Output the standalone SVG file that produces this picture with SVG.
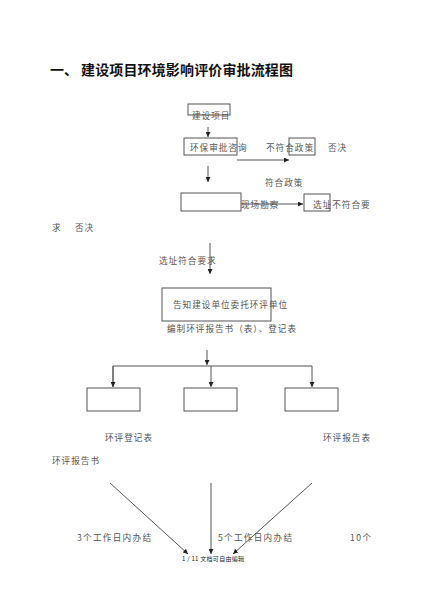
<svg xmlns="http://www.w3.org/2000/svg" width="423" height="600" viewBox="0 0 423 600">
<style>
.t{font-family:"Noto Sans CJK SC","Noto Sans",sans-serif;font-size:8.6px;fill:#555;letter-spacing:1px}
.h{font-family:"Noto Sans CJK SC","Noto Sans",sans-serif;font-size:14px;font-weight:bold;fill:#111}
.b{fill:none;stroke:#555;stroke-width:1}
.c{fill:none;stroke:#555;stroke-width:1}
.f{font-family:"Noto Sans CJK SC","Noto Sans",sans-serif;font-size:6px;fill:#222}
</style>
<defs>
<marker id="a" viewBox="0 0 8 8" refX="8" refY="4" markerWidth="5" markerHeight="5" orient="auto" markerUnits="userSpaceOnUse">
<path d="M0,0 L8,4 L0,8 Z" fill="#222"/>
</marker>
</defs>
<rect width="423" height="600" fill="#fff"/>
<g id="title">
<text class="h" x="50" y="75">一、</text>
<text class="h" x="81" y="75" textLength="212">建设项目环境影响评价审批流程图</text>
</g>
<g id="connectors">
<line class="c" x1="208" y1="127" x2="208" y2="137" marker-end="url(#a)"/>
<line class="c" x1="237" y1="160" x2="289" y2="160" marker-end="url(#a)"/>
<line class="c" x1="208" y1="166" x2="208" y2="182" marker-end="url(#a)"/>
<line class="c" x1="241" y1="204" x2="303" y2="204" marker-end="url(#a)"/>
<line class="c" x1="210" y1="243" x2="210" y2="274" marker-end="url(#a)"/>
<line class="c" x1="207" y1="350" x2="207" y2="365" marker-end="url(#a)"/>
<polyline class="c" points="113,387 113,366 312,366 312,387" marker-end="url(#a)"/>
<line class="c" x1="113" y1="366" x2="113" y2="387" marker-end="url(#a)"/>
<line class="c" x1="211" y1="366" x2="211" y2="387" marker-end="url(#a)"/>
<line class="c" x1="110" y1="483" x2="188" y2="554" marker-end="url(#a)"/>
<line class="c" x1="211" y1="483" x2="211" y2="554" marker-end="url(#a)"/>
<line class="c" x1="312" y1="483" x2="233" y2="554" marker-end="url(#a)"/>
</g>
<g id="n1">
<rect class="b" x="188" y="104" width="42" height="11"/>
<text class="t" x="192" y="119">建设项目</text>
</g>
<g id="n2">
<rect class="b" x="184" y="138" width="53" height="17"/>
<text class="t" x="190" y="151">环保审批咨询</text>
</g>
<g id="n3">
<rect class="b" x="289" y="138" width="26" height="17"/>
<text class="t" x="266" y="151">不符合政策</text>
</g>
<g id="l1"><text class="t" x="328" y="151">否决</text></g>
<g id="l2"><text class="t" x="265" y="186">符合政策</text></g>
<g id="n4">
<rect class="b" x="181" y="193" width="60" height="18"/>
<text class="t" x="241" y="208">现场勘察</text>
</g>
<g id="n5">
<rect class="b" x="304" y="194" width="26" height="17"/>
<text class="t" x="313" y="208">选址不符合要</text>
</g>
<g id="l3">
<text class="t" x="52" y="231">求</text>
<text class="t" x="75" y="231">否决</text>
</g>
<g id="l4"><text class="t" x="159" y="264">选址符合要求</text></g>
<g id="n6">
<rect class="b" x="162" y="288" width="109" height="33"/>
<text class="t" x="173" y="308">告知建设单位委托环评单位</text>
</g>
<g id="l5"><text class="t" x="167" y="332">编制环评报告书（表）、登记表</text></g>
<g id="n7"><rect class="b" x="87" y="388" width="53" height="23"/></g>
<g id="n8"><rect class="b" x="184" y="388" width="53" height="23"/></g>
<g id="n9"><rect class="b" x="285" y="388" width="53" height="23"/></g>
<g id="l6"><text class="t" x="105" y="441">环评登记表</text></g>
<g id="l7"><text class="t" x="323" y="441">环评报告表</text></g>
<g id="l8"><text class="t" x="52" y="464">环评报告书</text></g>
<g id="l9"><text class="t" x="77" y="541" textLength="75">3个工作日内办结</text></g>
<g id="l10"><text class="t" x="218" y="541" textLength="75">5个工作日内办结</text></g>
<g id="l11"><text class="t" x="350" y="541" textLength="22">10个</text></g>
<g id="footer"><text class="f" x="182" y="561" textLength="62">1 / 11 文档可自由编辑</text></g>
</svg>
